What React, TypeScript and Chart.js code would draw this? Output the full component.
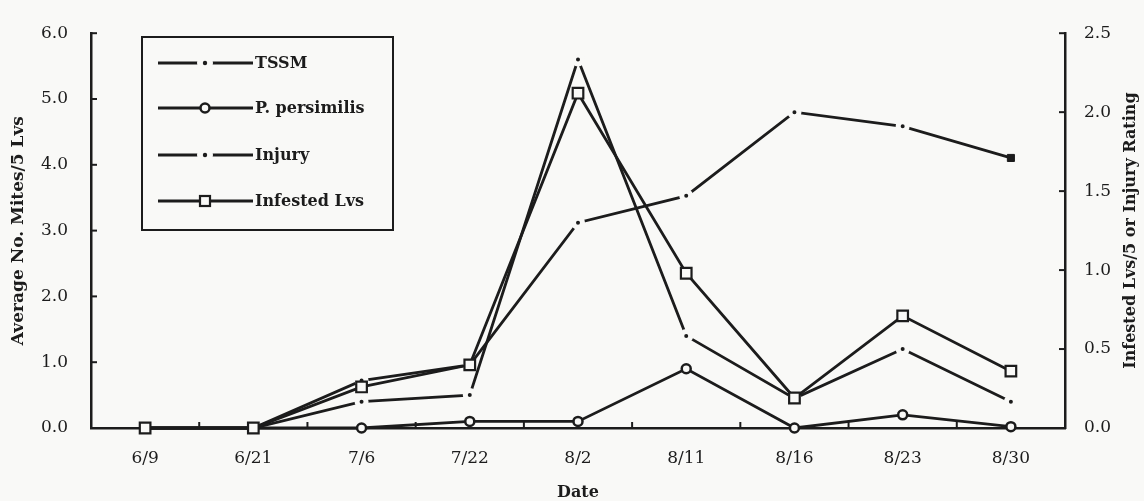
import React, { useEffect, useRef } from "react";
import { Chart, registerables } from "chart.js";

Chart.register(...registerables);

// ---- data ----
const dates = ["6/9", "6/21", "7/6", "7/22", "8/2", "8/11", "8/16", "8/23", "8/30"];
const tssm = [0, 0, 0.4, 0.5, 5.6, 1.4, 0.45, 1.2, 0.4];
const persimilis = [0, 0, 0, 0.1, 0.1, 0.9, 0, 0.2, 0.02];
const injury = [0, 0, 0.3, 0.4, 1.3, 1.47, 2.0, 1.91, 1.71];
const infested = [0, 0, 0.26, 0.4, 2.12, 0.98, 0.19, 0.71, 0.36];
const leftTicks = [0, 1, 2, 3, 4, 5, 6];
const rightTicks = [0, 0.5, 1, 1.5, 2, 2.5];
const legendLabels = ["TSSM", "P. persimilis", "Injury", "Infested Lvs"];
const leftTitle = "Average No. Mites/5 Lvs";
const rightTitle = "Infested Lvs/5 or Injury Rating";
const xTitle = "Date";

// ---- styles ----
const INK = "#1c1c1c";
const PAPER = "#f9f9f7";
const FONT = "'DejaVu Serif', serif";

const paperPlugin = {
  id: "paper",
  beforeDraw(chart: any) {
    const { ctx, width, height } = chart;
    ctx.save();
    ctx.fillStyle = PAPER;
    ctx.fillRect(0, 0, width, height);
    ctx.restore();
  },
};

const inwardTicksPlugin = {
  id: "inwardTicks",
  beforeDatasetsDraw(chart: any) {
    const { ctx, chartArea: a, scales } = chart;
    const L = 6;
    ctx.save();
    ctx.strokeStyle = INK;
    ctx.lineWidth = 2;
    const seg = (x1: number, y1: number, x2: number, y2: number) => {
      ctx.beginPath();
      ctx.moveTo(x1, y1);
      ctx.lineTo(x2, y2);
      ctx.stroke();
    };
    leftTicks.forEach((v) => {
      if (v === 0) return;
      const py = scales.y.getPixelForValue(v);
      seg(a.left, py, a.left + L, py);
    });
    rightTicks.forEach((v) => {
      if (v === 0) return;
      const py = scales.y1.getPixelForValue(v);
      seg(a.right - L, py, a.right, py);
    });
    for (let i = 0; i < dates.length - 1; i++) {
      const px = (scales.x.getPixelForValue(i) + scales.x.getPixelForValue(i + 1)) / 2;
      seg(px, a.bottom, px, a.bottom - L);
    }
    ctx.restore();
  },
};

const rightTitlePlugin = {
  id: "rightTitle",
  afterDraw(chart: any) {
    const { ctx, chartArea: a } = chart;
    ctx.save();
    ctx.translate(1131, (a.top + a.bottom) / 2);
    ctx.rotate(-Math.PI / 2);
    ctx.fillStyle = INK;
    ctx.font = `bold 16px ${FONT}`;
    ctx.textAlign = "center";
    ctx.textBaseline = "middle";
    ctx.fillText(rightTitle, 0, 0);
    ctx.restore();
  },
};

const legendPlugin = {
  id: "boxLegend",
  afterDraw(chart: any) {
    const { ctx } = chart;
    const box = { l: 142, t: 37, r: 393, b: 230 };
    const rows = [63, 108, 155, 201];
    ctx.save();
    ctx.fillStyle = PAPER;
    ctx.fillRect(box.l, box.t, box.r - box.l, box.b - box.t);
    ctx.strokeStyle = INK;
    ctx.lineWidth = 2;
    ctx.strokeRect(box.l, box.t, box.r - box.l, box.b - box.t);
    legendLabels.forEach((label, i) => {
      const y = rows[i];
      const cx = 205;
      ctx.strokeStyle = INK;
      ctx.lineWidth = 2.8;
      ctx.beginPath();
      ctx.moveTo(158, y);
      ctx.lineTo(253, y);
      ctx.stroke();
      if (i === 0 || i === 2) {
        ctx.fillStyle = PAPER;
        ctx.beginPath();
        ctx.arc(cx, y, 8, 0, Math.PI * 2);
        ctx.fill();
        ctx.fillStyle = INK;
        ctx.beginPath();
        ctx.arc(cx, y, 2.2, 0, Math.PI * 2);
        ctx.fill();
      } else if (i === 1) {
        ctx.fillStyle = PAPER;
        ctx.lineWidth = 2.5;
        ctx.beginPath();
        ctx.arc(cx, y, 4.5, 0, Math.PI * 2);
        ctx.fill();
        ctx.stroke();
      } else {
        ctx.fillStyle = PAPER;
        ctx.lineWidth = 2.2;
        ctx.fillRect(cx - 5, y - 5, 10, 10);
        ctx.strokeRect(cx - 5, y - 5, 10, 10);
      }
      ctx.fillStyle = INK;
      ctx.font = `bold 16px ${FONT}`;
      ctx.textAlign = "left";
      ctx.textBaseline = "middle";
      ctx.fillText(label, 255, y + 1);
    });
    ctx.restore();
  },
};

const dotRadius = (arr: number[]) => arr.map((v) => (v === 0 ? 0 : 4.5));

export default function App() {
  const ref = useRef<HTMLCanvasElement>(null);

  useEffect(() => {
    const last = dates.length - 1;
    const injuryStyle = dates.map((_, i) => (i === last ? "rect" : "circle"));
    const injuryRadius = injury.map((v, i) => (i === last ? 5 : v === 0 ? 0 : 4.5));
    const injuryBorder = dates.map((_, i) => (i === last ? INK : PAPER));
    const injuryBorderW = dates.map((_, i) => (i === last ? 1 : 5));

    const chart = new Chart(ref.current as HTMLCanvasElement, {
      type: "line",
      data: {
        labels: dates,
        datasets: [
          {
            label: "Infested Lvs",
            data: infested,
            yAxisID: "y1",
            order: 0,
            borderColor: INK,
            borderWidth: 2.8,
            pointStyle: "rect",
            pointRadius: 7.5,
            pointBackgroundColor: PAPER,
            pointBorderColor: INK,
            pointBorderWidth: 2.2,
            tension: 0,
            clip: false,
          },
          {
            label: "P. persimilis",
            data: persimilis,
            yAxisID: "y",
            order: 1,
            borderColor: INK,
            borderWidth: 2.8,
            pointStyle: "circle",
            pointRadius: 4.5,
            pointBackgroundColor: PAPER,
            pointBorderColor: INK,
            pointBorderWidth: 2.5,
            tension: 0,
            clip: false,
          },
          {
            label: "TSSM",
            data: tssm,
            yAxisID: "y",
            order: 2,
            borderColor: INK,
            borderWidth: 2.8,
            pointStyle: "circle",
            pointRadius: dotRadius(tssm),
            pointBackgroundColor: INK,
            pointBorderColor: PAPER,
            pointBorderWidth: 5,
            tension: 0,
            clip: false,
          },
          {
            label: "Injury",
            data: injury,
            yAxisID: "y1",
            order: 3,
            borderColor: INK,
            borderWidth: 2.8,
            pointStyle: injuryStyle,
            pointRadius: injuryRadius,
            pointBackgroundColor: INK,
            pointBorderColor: injuryBorder,
            pointBorderWidth: injuryBorderW,
            tension: 0,
            clip: false,
          },
        ] as any,
      },
      options: {
        responsive: false,
        animation: false,
        devicePixelRatio: 1,
        layout: { padding: { top: 24, left: 0, right: 0, bottom: 0 } },
        plugins: {
          legend: { display: false },
          tooltip: { enabled: false },
          title: { display: false },
        },
        scales: {
          x: {
            type: "category",
            offset: true,
            grid: { display: false, drawTicks: false },
            border: { display: true, color: INK, width: 2.5 },
            ticks: {
              font: { family: FONT, size: 17 },
              color: INK,
              padding: 20,
              maxRotation: 0,
              autoSkip: false,
            },
            title: {
              display: true,
              text: xTitle,
              color: INK,
              font: { family: FONT, size: 16, weight: "bold", lineHeight: 1 },
              padding: { top: 0, bottom: 0 },
            },
            afterFit(s: any) {
              s.height = 73;
            },
          },
          y: {
            type: "linear",
            position: "left",
            min: 0,
            max: 6,
            grid: { display: false, drawTicks: false },
            border: { display: true, color: INK, width: 2.5 },
            ticks: {
              stepSize: 1,
              callback: (v: any) => Number(v).toFixed(1),
              font: { family: FONT, size: 17 },
              color: INK,
              padding: 23,
            },
            title: {
              display: true,
              text: leftTitle,
              color: INK,
              font: { family: FONT, size: 17, weight: "bold", lineHeight: 1 },
              padding: { top: 10, bottom: 0 },
            },
            afterFit(s: any) {
              s.width = 91;
            },
          },
          y1: {
            type: "linear",
            position: "right",
            min: 0,
            max: 2.5,
            grid: { display: false, drawTicks: false },
            border: { display: true, color: INK, width: 2.5 },
            ticks: {
              stepSize: 0.5,
              callback: (v: any) => Number(v).toFixed(1),
              font: { family: FONT, size: 17 },
              color: INK,
              padding: 19,
            },
            afterFit(s: any) {
              s.width = 79;
            },
          },
        } as any,
      },
      plugins: [paperPlugin, inwardTicksPlugin, rightTitlePlugin, legendPlugin],
    });
    return () => chart.destroy();
  }, []);

  return (
    <div style={{ position: "absolute", left: 0, top: 0, width: 1144, height: 501, background: PAPER }}>
      <canvas ref={ref} width={1144} height={501} style={{ display: "block", width: 1144, height: 501 }} />
    </div>
  );
}
